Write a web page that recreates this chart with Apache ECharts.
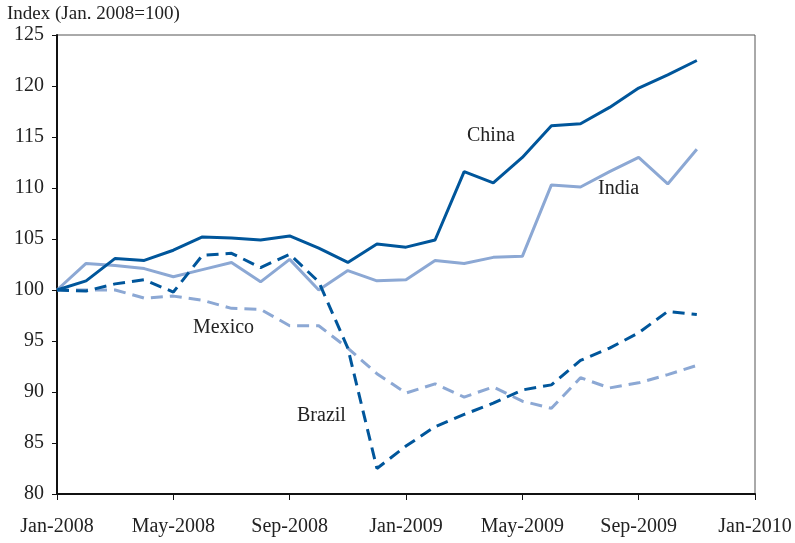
<!DOCTYPE html>
<html>
<head>
  <meta charset="utf-8">
  <title>Index (Jan. 2008=100)</title>
  <style type="text/css">
    html, body { margin: 0; padding: 0; background: #fff; }
    #main { width: 795px; height: 543px; }
  </style>
</head>
<body>
<div id="main"></div>
<script type="text/javascript" src="https://cdn.jsdelivr.net/npm/echarts@6/dist/echarts.min.js"></script>
<script type="text/javascript">
  var months = [
    'Jan-2008', 'Feb-2008', 'Mar-2008', 'Apr-2008', 'May-2008', 'Jun-2008',
    'Jul-2008', 'Aug-2008', 'Sep-2008', 'Oct-2008', 'Nov-2008', 'Dec-2008',
    'Jan-2009', 'Feb-2009', 'Mar-2009', 'Apr-2009', 'May-2009', 'Jun-2009',
    'Jul-2009', 'Aug-2009', 'Sep-2009', 'Oct-2009', 'Nov-2009', 'Dec-2009',
    'Jan-2010'
  ];
  var china = [100, 100.9, 103.1, 102.9, 103.9, 105.2, 105.1, 104.9, 105.3, 104.1, 102.7, 104.5,
               104.2, 104.9, 111.6, 110.5, 113.0, 116.1, 116.3, 117.9, 119.8, 121.1, 122.5];
  var india = [100, 102.6, 102.4, 102.1, 101.3, 102.0, 102.7, 100.8, 103.0, 100.0, 101.9, 100.9,
               101.0, 102.9, 102.6, 103.2, 103.3, 110.3, 110.1, 111.6, 113.0, 110.4, 113.8];
  var brazil = [100, 99.9, 100.6, 101.0, 99.8, 103.4, 103.6, 102.2, 103.5, 100.8, 94.3, 82.5,
                84.7, 86.6, 87.8, 88.9, 90.2, 90.7, 93.1, 94.3, 95.8, 97.9, 97.6];
  var mexico = [100, 100.0, 100.0, 99.2, 99.4, 99.0, 98.2, 98.1, 96.5, 96.5, 94.3, 91.8,
                89.9, 90.8, 89.5, 90.5, 89.1, 88.4, 91.4, 90.4, 90.9, 91.7, 92.6];

  var dark = '#00569B';
  var light = '#8CA8D4';
  var font = 'Liberation Serif, Times New Roman, serif';

  var myChart = echarts.init(document.getElementById('main'));

  function lineSeries(name, data, color, dashed) {
    return {
      name: name,
      type: 'line',
      data: data,
      symbol: 'none',
      animation: false,
      lineStyle: {
        color: color,
        width: 3,
        type: dashed ? [12, 7] : 'solid'
      }
    };
  }

  var option = {
    backgroundColor: '#fff',
    textStyle: { fontFamily: font },
    grid: {
      left: 57, right: 40, top: 35, bottom: 49,
      show: true,
      borderColor: '#555',
      borderWidth: 1
    },
    xAxis: {
      type: 'category',
      data: months,
      boundaryGap: false,
      axisLine: { lineStyle: { color: '#111', width: 2 } },
      axisTick: { interval: 3, length: 6, lineStyle: { color: '#111', width: 1 } },
      axisLabel: { interval: 3, color: '#222', fontSize: 20, fontFamily: font, margin: 23 },
      splitLine: { show: false }
    },
    yAxis: {
      type: 'value',
      min: 80,
      max: 125,
      interval: 5,
      axisLine: { show: true, lineStyle: { color: '#111', width: 2 } },
      axisTick: { show: true, length: 5, lineStyle: { color: '#111', width: 1 } },
      axisLabel: { color: '#222', fontSize: 20, fontFamily: font, margin: 13 },
      splitLine: { show: false }
    },
    graphic: [
      { type: 'text', left: 7, top: 5, style: { text: 'Index (Jan. 2008=100)', fill: '#222', font: '19px ' + font } },
      { type: 'text', left: 467, top: 126, style: { text: 'China', fill: '#222', font: '20px ' + font } },
      { type: 'text', left: 598, top: 179, style: { text: 'India', fill: '#222', font: '20px ' + font } },
      { type: 'text', left: 193, top: 318, style: { text: 'Mexico', fill: '#222', font: '20px ' + font } },
      { type: 'text', left: 297, top: 406, style: { text: 'Brazil', fill: '#222', font: '20px ' + font } }
    ],
    series: [
      lineSeries('Mexico', mexico, light, true),
      lineSeries('India', india, light, false),
      lineSeries('Brazil', brazil, dark, true),
      lineSeries('China', china, dark, false)
    ]
  };

  myChart.setOption(option);
</script>
</body>
</html>
